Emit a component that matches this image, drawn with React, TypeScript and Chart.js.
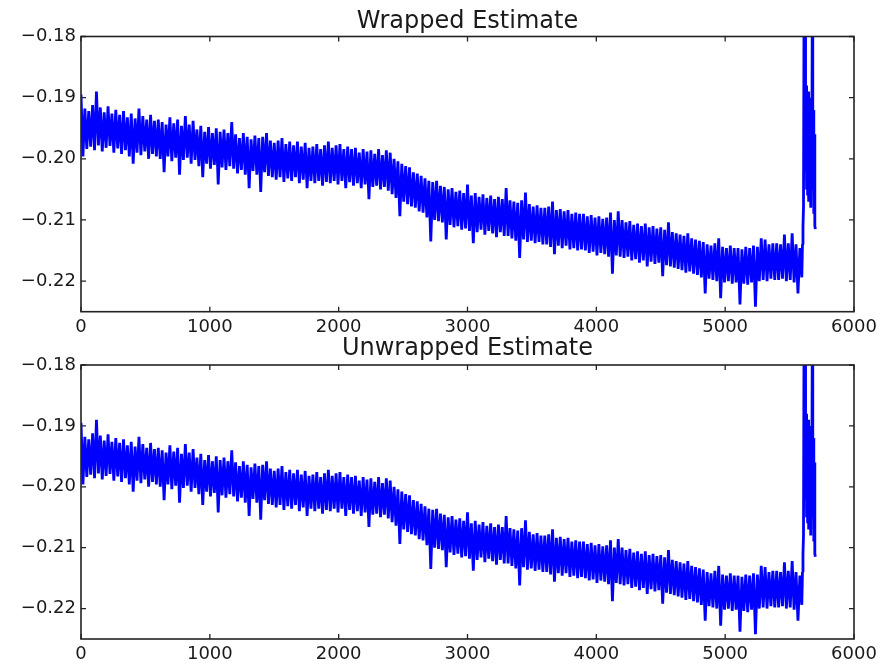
import React, { useEffect, useRef } from 'react';
import { Chart, registerables } from 'chart.js';

Chart.register(...registerables);

// ---- data (sample index spacing for the main record) ----
const SAMPLE_STEP = 15;

const est0000 = [
  -0.1895, -0.1996, -0.1918, -0.1984, -0.1922, -0.1980, -0.1912, -0.1986, -0.1890, -0.1978,
  -0.1916, -0.1988, -0.1924, -0.1982, -0.1914, -0.1979, -0.1926, -0.1990, -0.1920, -0.1983,
  -0.1928, -0.1992, -0.1922, -0.1986, -0.1932, -0.1996, -0.1926, -0.2008, -0.1934, -0.1990,
  -0.1918, -0.1994, -0.1930, -0.1988, -0.1936, -0.2000, -0.1928, -0.1992, -0.1938, -0.1996,
];
const est0600 = [
  -0.1936, -0.2000, -0.1940, -0.2022, -0.1944, -0.1996, -0.1932, -0.2004, -0.1942, -0.1998,
  -0.1936, -0.2026, -0.1946, -0.2002, -0.1930, -0.1998, -0.1944, -0.2008, -0.1938, -0.2002,
  -0.1952, -0.2012, -0.1946, -0.2030, -0.1956, -0.2008, -0.1948, -0.2016, -0.1958, -0.2010,
  -0.1950, -0.2042, -0.1956, -0.2014, -0.1952, -0.2018, -0.1958, -0.2012, -0.1940, -0.2016,
];
const est1200 = [
  -0.1960, -0.2024, -0.1966, -0.2018, -0.1958, -0.2026, -0.1964, -0.2048, -0.1968, -0.2020,
  -0.1962, -0.2026, -0.1966, -0.2054, -0.1964, -0.2022, -0.1958, -0.2028, -0.1970, -0.2030,
  -0.1974, -0.2034, -0.1970, -0.2030, -0.1966, -0.2038, -0.1976, -0.2032, -0.1972, -0.2036,
  -0.1978, -0.2030, -0.1972, -0.2040, -0.1980, -0.2034, -0.1974, -0.2048, -0.1982, -0.2036,
];
const est1800 = [
  -0.1980, -0.2040, -0.1976, -0.2036, -0.1984, -0.2044, -0.1978, -0.2038, -0.1972, -0.2040,
  -0.1982, -0.2036, -0.1978, -0.2042, -0.1976, -0.2036, -0.1984, -0.2048, -0.1980, -0.2038,
  -0.1984, -0.2044, -0.1982, -0.2040, -0.1990, -0.2048, -0.1984, -0.2042, -0.1988, -0.2066,
  -0.1986, -0.2046, -0.1992, -0.2044, -0.1984, -0.2050, -0.1994, -0.2046, -0.1986, -0.2052,
];
const est2400 = [
  -0.1990, -0.2058, -0.2000, -0.2064, -0.2004, -0.2094, -0.2008, -0.2070, -0.2012, -0.2074,
  -0.2014, -0.2078, -0.2022, -0.2080, -0.2024, -0.2086, -0.2028, -0.2088, -0.2032, -0.2096,
  -0.2036, -0.2135, -0.2038, -0.2100, -0.2036, -0.2102, -0.2044, -0.2104, -0.2046, -0.2132,
  -0.2050, -0.2108, -0.2048, -0.2112, -0.2054, -0.2110, -0.2052, -0.2116, -0.2056, -0.2114,
];
const est3000 = [
  -0.2042, -0.2118, -0.2060, -0.2138, -0.2056, -0.2120, -0.2062, -0.2116, -0.2058, -0.2124,
  -0.2064, -0.2118, -0.2060, -0.2122, -0.2066, -0.2128, -0.2062, -0.2120, -0.2066, -0.2126,
  -0.2048, -0.2126, -0.2068, -0.2130, -0.2070, -0.2134, -0.2072, -0.2162, -0.2068, -0.2132,
  -0.2055, -0.2136, -0.2074, -0.2134, -0.2078, -0.2138, -0.2076, -0.2136, -0.2080, -0.2140,
];
const est3600 = [
  -0.2080, -0.2140, -0.2078, -0.2144, -0.2070, -0.2156, -0.2084, -0.2142, -0.2082, -0.2146,
  -0.2086, -0.2142, -0.2084, -0.2148, -0.2090, -0.2146, -0.2088, -0.2150, -0.2090, -0.2148,
  -0.2090, -0.2150, -0.2094, -0.2154, -0.2092, -0.2152, -0.2096, -0.2158, -0.2094, -0.2154,
  -0.2098, -0.2156, -0.2096, -0.2160, -0.2088, -0.2188, -0.2100, -0.2158, -0.2086, -0.2160,
];
const est4200 = [
  -0.2100, -0.2162, -0.2104, -0.2160, -0.2102, -0.2166, -0.2108, -0.2164, -0.2106, -0.2170,
  -0.2110, -0.2166, -0.2106, -0.2176, -0.2112, -0.2168, -0.2110, -0.2172, -0.2114, -0.2170,
  -0.2112, -0.2192, -0.2116, -0.2174, -0.2104, -0.2176, -0.2120, -0.2178, -0.2122, -0.2180,
  -0.2124, -0.2182, -0.2126, -0.2186, -0.2122, -0.2184, -0.2130, -0.2188, -0.2132, -0.2190,
];
const est4800 = [
  -0.2134, -0.2194, -0.2136, -0.2220, -0.2140, -0.2196, -0.2142, -0.2198, -0.2138, -0.2200,
  -0.2130, -0.2228, -0.2144, -0.2202, -0.2146, -0.2200, -0.2142, -0.2204, -0.2146, -0.2202,
  -0.2146, -0.2238, -0.2148, -0.2204, -0.2144, -0.2206, -0.2146, -0.2202, -0.2142, -0.2242,
  -0.2144, -0.2200, -0.2130, -0.2198, -0.2132, -0.2200, -0.2140, -0.2196, -0.2138, -0.2198,
];
const est5400 = [
  -0.2138, -0.2198, -0.2140, -0.2196, -0.2124, -0.2200, -0.2138, -0.2198, -0.2122, -0.2202,
  -0.2140, -0.2220, -0.2146, -0.2194,
];

// final burst, with its own sample positions
const tailX = [
  5600, 5604, 5608, 5612, 5616, 5620, 5624, 5628, 5632, 5636, 5640, 5644, 5648,
  5652, 5656, 5660, 5664, 5668, 5672, 5676, 5680, 5684, 5688, 5692, 5696, 5700,
];
const tailY = [
  -0.2140, -0.2110, -0.2080, -0.1760, -0.1960, -0.1780, -0.2020, -0.1880, -0.2050,
  -0.1900, -0.2060, -0.1890, -0.2070, -0.1920, -0.2040, -0.1900, -0.2080, -0.1930,
  -0.2050, -0.1760, -0.2010, -0.1920, -0.2090, -0.1960, -0.2110, -0.2115,
];

const X_TICKS = [0, 1000, 2000, 3000, 4000, 5000, 6000];
const Y_TICKS = [-0.22, -0.21, -0.2, -0.19, -0.18];
const X_MIN = 0;
const X_MAX = 6000;
const Y_MIN = -0.225;
const Y_MAX = -0.18;

function buildPoints() {
  const main = [
    ...est0000, ...est0600, ...est1200, ...est1800, ...est2400,
    ...est3000, ...est3600, ...est4200, ...est4800, ...est5400,
  ].map((y, i) => ({ x: i * SAMPLE_STEP, y }));
  const tail = tailX.map((x, i) => ({ x, y: tailY[i] }));
  return main.concat(tail);
}

const FONT = 'DejaVu Sans';
const TEXT = '#1a1a1a';

const framePlugin = {
  id: 'mplFrame',
  afterDatasetsDraw(chart: any) {
    const { ctx, chartArea: a, scales } = chart;
    const L = 5;
    ctx.save();
    ctx.strokeStyle = '#222';
    ctx.lineWidth = 1.3;
    ctx.beginPath();
    for (const t of scales.x.ticks) {
      const px = scales.x.getPixelForValue(t.value);
      ctx.moveTo(px, a.bottom);
      ctx.lineTo(px, a.bottom - L);
      ctx.moveTo(px, a.top);
      ctx.lineTo(px, a.top + L);
    }
    for (const t of scales.y.ticks) {
      const py = scales.y.getPixelForValue(t.value);
      ctx.moveTo(a.left, py);
      ctx.lineTo(a.left + L, py);
      ctx.moveTo(a.right, py);
      ctx.lineTo(a.right - L, py);
    }
    ctx.stroke();
    ctx.lineWidth = 1.6;
    ctx.strokeRect(a.left, a.top, a.right - a.left, a.bottom - a.top);
    ctx.restore();
  },
};

type PanelProps = {
  title: string;
  top: number;
  height: number;
  axisHeight: number;
  titlePadTop: number;
  titlePadBottom: number;
};

function Panel({ title, top, height, axisHeight, titlePadTop, titlePadBottom }: PanelProps) {
  const ref = useRef<HTMLCanvasElement | null>(null);
  useEffect(() => {
    if (!ref.current) return;
    const chart = new Chart(ref.current, {
      type: 'line',
      data: {
        datasets: [
          {
            data: buildPoints(),
            borderColor: '#0000ff',
            borderWidth: 2.8,
            borderJoinStyle: 'bevel',
            pointRadius: 0,
            tension: 0,
            fill: false,
            clip: 0,
          } as any,
        ],
      },
      options: {
        animation: false,
        responsive: false,
        devicePixelRatio: 1,
        events: [],
        layout: { padding: { left: 0, right: 38, top: 0, bottom: 0 } },
        plugins: {
          legend: { display: false },
          tooltip: { enabled: false },
          title: {
            display: true,
            text: title,
            fullSize: false,
            color: TEXT,
            font: { family: FONT, size: 24, weight: 'normal', lineHeight: 1.2 },
            padding: { top: titlePadTop, bottom: titlePadBottom },
          } as any,
        },
        scales: {
          x: {
            type: 'linear',
            min: X_MIN,
            max: X_MAX,
            grid: { display: false, drawTicks: false },
            border: { display: false },
            afterBuildTicks: (s: any) => {
              s.ticks = X_TICKS.map((v) => ({ value: v }));
            },
            afterFit: (s: any) => {
              s.height = axisHeight;
            },
            ticks: {
              color: TEXT,
              font: { family: FONT, size: 18 },
              padding: 5,
              maxRotation: 0,
              autoSkip: false,
              callback: (v: any) => String(v),
            },
          },
          y: {
            type: 'linear',
            min: Y_MIN,
            max: Y_MAX,
            grid: { display: false, drawTicks: false },
            border: { display: false },
            afterBuildTicks: (s: any) => {
              s.ticks = Y_TICKS.map((v) => ({ value: v }));
            },
            afterFit: (s: any) => {
              s.width = 81;
            },
            ticks: {
              color: TEXT,
              font: { family: FONT, size: 18 },
              padding: 5,
              autoSkip: false,
              callback: (v: any) => (v < 0 ? '\u2212' : '') + Math.abs(Number(v)).toFixed(2),
            },
          },
        },
      },
      plugins: [framePlugin],
    });
    return () => chart.destroy();
  }, [title, height, axisHeight, titlePadTop, titlePadBottom]);

  return (
    <canvas
      ref={ref}
      width={892}
      height={height}
      style={{ position: 'absolute', left: 0, top, width: 892, height }}
    />
  );
}

export default function App() {
  return (
    <div
      style={{
        position: 'absolute',
        left: 0,
        top: 0,
        width: 892,
        height: 668,
        background: '#ffffff',
        overflow: 'hidden',
      }}
    >
      <Panel title="Wrapped Estimate" top={0} height={345} axisHeight={33.3} titlePadTop={7.3} titlePadBottom={0.4} />
      <Panel title="Unwrapped Estimate" top={330} height={338} axisHeight={29} titlePadTop={4} titlePadBottom={2.2} />
    </div>
  );
}
